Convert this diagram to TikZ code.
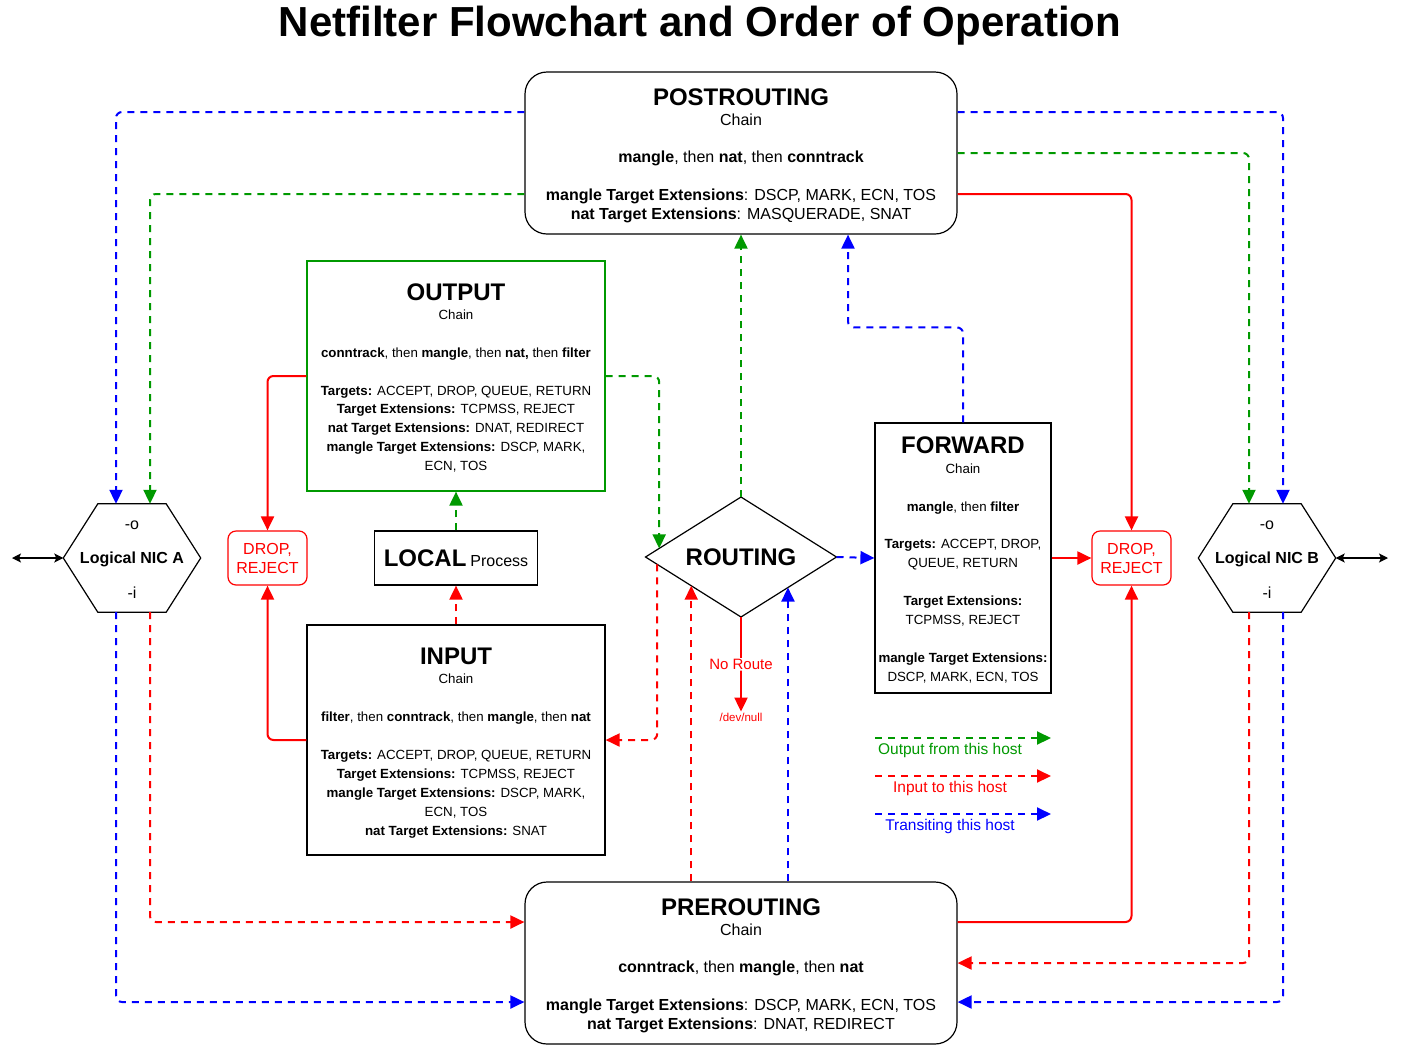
\documentclass[tikz,border=0pt]{standalone}
\usepackage{fontspec}
\setmainfont{Liberation Sans}
\usetikzlibrary{arrows.meta,shapes.geometric,calc}
\definecolor{cR}{RGB}{255,0,0}
\definecolor{cG}{RGB}{0,153,0}
\definecolor{cB}{RGB}{0,0,255}
\newcommand{\fTitle}{\fontsize{42}{50}\selectfont\bfseries}
\newcommand{\fBig}{\fontsize{24}{28}\selectfont\bfseries}
\newcommand{\fMed}{\fontsize{16}{19}\selectfont}
\newcommand{\fSml}{\fontsize{13.3}{16}\selectfont}
\newcommand{\fTiny}{\fontsize{11.5}{14}\selectfont}
\newcommand{\fLeg}{\fontsize{15.5}{18}\selectfont}
\begin{document}
\begin{tikzpicture}[x=1pt,y=-1pt,
  hd/.style={inner sep=0pt, font=\fBig, text height=17.5pt, text depth=0pt},
  md/.style={inner sep=0pt, font=\fMed, text height=11pt, text depth=1pt},
  sm/.style={inner sep=0pt, font=\fSml, text height=9pt, text depth=1pt},
  chainbox/.style={draw, line width=1.2pt, rounded corners=22pt, minimum width=432pt, minimum height=162pt, inner sep=0pt},
  sqbox/.style={draw, line width=1.2pt, inner sep=0pt},
  dropbox/.style={draw=cR, text=cR, line width=1.2pt, rounded corners=8pt, minimum width=79pt, minimum height=54pt, inner sep=0pt, align=center, font=\fMed},
  hexlbl/.style={minimum width=137pt, minimum height=108pt, inner sep=0pt, font=\fMed\bfseries, text height=11pt, text depth=1pt},
  hexline/.style={line width=1.2pt, line join=miter},
  conn/.style={line width=2pt, rounded corners=6pt, -{Triangle[length=14pt,width=13pt]}},
  dsh/.style={conn, dash pattern=on 7pt off 6pt},
  outp/.style={dsh, color=cG},
  inp/.style={dsh, color=cR},
  trans/.style={dsh, color=cB},
  rsolid/.style={conn, color=cR},
  biarrow/.style={line width=1.3pt, {Stealth[length=9pt,width=9pt,inset=2pt]}-{Stealth[length=9pt,width=9pt,inset=2pt]}}
]
\fill[white] (0,0) rectangle (1402,1045);
\useasboundingbox (0,0) rectangle (1402,1045);

% title
\node[font=\fTitle, inner sep=0pt] (title) at (700,26) {Netfilter Flowchart and Order of Operation};

% POSTROUTING
\node[chainbox] (post) at (741,153) {};
\node[hd] (post1) at (741,97) {POSTROUTING};
\node[md] (post2) at (741,120) {Chain};
\node[md] (post3) at (741,157) {\textbf{mangle}, then \textbf{nat}, then \textbf{conntrack}};
\node[md] (post4) at (741,195) {\textbf{mangle Target Extensions}: DSCP, MARK, ECN, TOS};
\node[md] (post5) at (741,214) {\textbf{nat Target Extensions}: MASQUERADE, SNAT};

% PREROUTING
\node[chainbox] (pre) at (741,963) {};
\node[hd] (pre1) at (741,907) {PREROUTING};
\node[md] (pre2) at (741,930) {Chain};
\node[md] (pre3) at (741,967) {\textbf{conntrack}, then \textbf{mangle}, then \textbf{nat}};
\node[md] (pre4) at (741,1005) {\textbf{mangle Target Extensions}: DSCP, MARK, ECN, TOS};
\node[md] (pre5) at (741,1024) {\textbf{nat Target Extensions}: DNAT, REDIRECT};

% OUTPUT
\node[sqbox, draw=cG, minimum width=298pt, minimum height=230pt] (output) at (456,376) {};
\node[hd] (out1) at (456,292) {OUTPUT};
\node[sm] (out2) at (456,315) {Chain};
\node[sm] (out3) at (456,353) {\textbf{conntrack}, then \textbf{mangle}, then \textbf{nat,} then \textbf{filter}};
\node[sm] (out4) at (456,391) {\textbf{Targets:} ACCEPT, DROP, QUEUE, RETURN};
\node[sm] (out5) at (456,409) {\textbf{Target Extensions:} TCPMSS, REJECT};
\node[sm] (out6) at (456,428) {\textbf{nat Target Extensions:} DNAT, REDIRECT};
\node[sm] (out7) at (456,447) {\textbf{mangle Target Extensions:} DSCP, MARK,};
\node[sm] (out8) at (456,466) {ECN, TOS};

% INPUT
\node[sqbox, minimum width=298pt, minimum height=230pt] (input) at (456,740) {};
\node[hd] (in1) at (456,656) {INPUT};
\node[sm] (in2) at (456,679) {Chain};
\node[sm] (in3) at (456,717) {\textbf{filter}, then \textbf{conntrack}, then \textbf{mangle}, then \textbf{nat}};
\node[sm] (in4) at (456,755) {\textbf{Targets:} ACCEPT, DROP, QUEUE, RETURN};
\node[sm] (in5) at (456,774) {\textbf{Target Extensions:} TCPMSS, REJECT};
\node[sm] (in6) at (456,793) {\textbf{mangle Target Extensions:} DSCP, MARK,};
\node[sm] (in7) at (456,812) {ECN, TOS};
\node[sm] (in8) at (456,831) {\textbf{nat Target Extensions:} SNAT};

% FORWARD
\node[sqbox, minimum width=176pt, minimum height=270pt] (fwd) at (963,558) {};
\node[hd] (fw1) at (963,445) {FORWARD};
\node[sm] (fw2) at (963,469) {Chain};
\node[sm] (fw3) at (963,507) {\textbf{mangle}, then \textbf{filter}};
\node[sm] (fw4) at (963,544) {\textbf{Targets:} ACCEPT, DROP,};
\node[sm] (fw5) at (963,563) {QUEUE, RETURN};
\node[sm] (fw6) at (963,601) {\textbf{Target Extensions:}};
\node[sm] (fw7) at (963,620) {TCPMSS, REJECT};
\node[sm] (fw8) at (963,658) {\textbf{mangle Target Extensions:}};
\node[sm] (fw9) at (963,677) {DSCP, MARK, ECN, TOS};

% LOCAL Process
\node[sqbox, minimum width=163pt, minimum height=54pt] (local) at (456,558) {{\fBig LOCAL}\hspace{4pt}{\fMed Process}};

% ROUTING
\node[diamond, draw, line width=1.2pt, minimum width=191pt, minimum height=120pt, inner sep=0pt, outer sep=0pt, aspect=1.6, font=\fBig, text height=17.5pt, text depth=0pt] (routing) at (741,557) {ROUTING};

% DROP / REJECT
\node[dropbox] (dropl) at (267.5,558) {DROP,\\REJECT};
\node[dropbox] (dropr) at (1131.5,558) {DROP,\\REJECT};

% NIC A
\node[hexlbl] (nica) at (132,558) {Logical NIC A};
\draw[hexline] (nica.west) -- ([xshift=34.5pt]nica.north west) -- ([xshift=-34.5pt]nica.north east) -- (nica.east) -- ([xshift=-34.5pt]nica.south east) -- ([xshift=34.5pt]nica.south west) -- cycle;
\node[md] (nicao) at (132,524) {-o};
\node[md] (nicai) at (132,593) {-i};

% NIC B
\node[hexlbl] (nicb) at (1267,558) {Logical NIC B};
\draw[hexline] (nicb.west) -- ([xshift=34.5pt]nicb.north west) -- ([xshift=-34.5pt]nicb.north east) -- (nicb.east) -- ([xshift=-34.5pt]nicb.south east) -- ([xshift=34.5pt]nicb.south west) -- cycle;
\node[md] (nicbo) at (1267,524) {-o};
\node[md] (nicbi) at (1267,593) {-i};

% external double arrows
\coordinate (extA) at (12,558);
\coordinate (extB) at (1388,558);
\draw[biarrow] (extA) -- (nica.west);
\draw[biarrow] (nicb.east) -- (extB);

% /dev/null
\node[font=\fTiny, text=cR, inner sep=1pt] (devnull) at (741,717) {/dev/null};

% ---- transit (blue)
\draw[trans] ([yshift=41pt]post.west) -| ([xshift=-16pt]nica.north);
\draw[trans] ([yshift=41pt]post.east) -| ([xshift=16pt]nicb.north);
\draw[trans] ([xshift=-16pt]nica.south) |- ([yshift=-39pt]pre.west);
\draw[trans] ([xshift=16pt]nicb.south) |- ([yshift=-39pt]pre.east);
\draw[trans] (pre.north -| routing.-33) -- (routing.-33);
\draw[trans] (routing.east) -- (fwd.west);
\draw[trans] (fwd.north) -- ++(0,-95) -| ([xshift=107pt]post.south);

% ---- output (green)
\draw[outp] ([yshift=-41pt]post.west) -| ([xshift=18pt]nica.north);
\draw[outp] (post.east) -| ([xshift=-18pt]nicb.north);
\draw[outp] (output.east) -| (routing.174.1);
\draw[outp] (routing.north) -- (post.south);
\draw[outp] (local.north) -- (output.south);

% ---- input (red dashed)
\draw[inp] ([xshift=18pt]nica.south) |- ([yshift=41pt]pre.west);
\draw[inp] ([xshift=-18pt]nicb.south) |- (pre.east);
\draw[inp] (pre.north -| routing.210.8) -- (routing.210.8);
\draw[inp] (routing.185.9) |- (input.east);
\draw[inp] (input.north) -- (local.south);

% ---- red solid (drop)
\draw[rsolid] ([yshift=-41pt]post.east) -| (dropr.north);
\draw[rsolid] ([yshift=41pt]pre.east) -| (dropr.south);
\draw[rsolid] (fwd.east) -- (dropr.west);
\draw[rsolid] (output.west) -| (dropl.north);
\draw[rsolid] (input.west) -| (dropl.south);
\draw[rsolid] (routing.south) -- node[fill=white, font=\fontsize{15}{18}\selectfont, text=cR, inner sep=1pt] (noroute) {No Route} (devnull.north);

% ---- legend
\coordinate (lg1s) at (875,738); \coordinate (lg1e) at (1051,738);
\coordinate (lg2s) at (875,776); \coordinate (lg2e) at (1051,776);
\coordinate (lg3s) at (875,814); \coordinate (lg3e) at (1051,814);
\draw[outp] (lg1s) -- (lg1e);
\draw[inp] (lg2s) -- (lg2e);
\draw[trans] (lg3s) -- (lg3e);
\node[font=\fLeg, text=cG, inner sep=0pt] (lgt1) at (950,750) {Output from this host};
\node[font=\fLeg, text=cR, inner sep=0pt] (lgt2) at (950,788) {Input to this host};
\node[font=\fLeg, text=cB, inner sep=0pt] (lgt3) at (950,826) {Transiting this host};
\end{tikzpicture}
\end{document}
